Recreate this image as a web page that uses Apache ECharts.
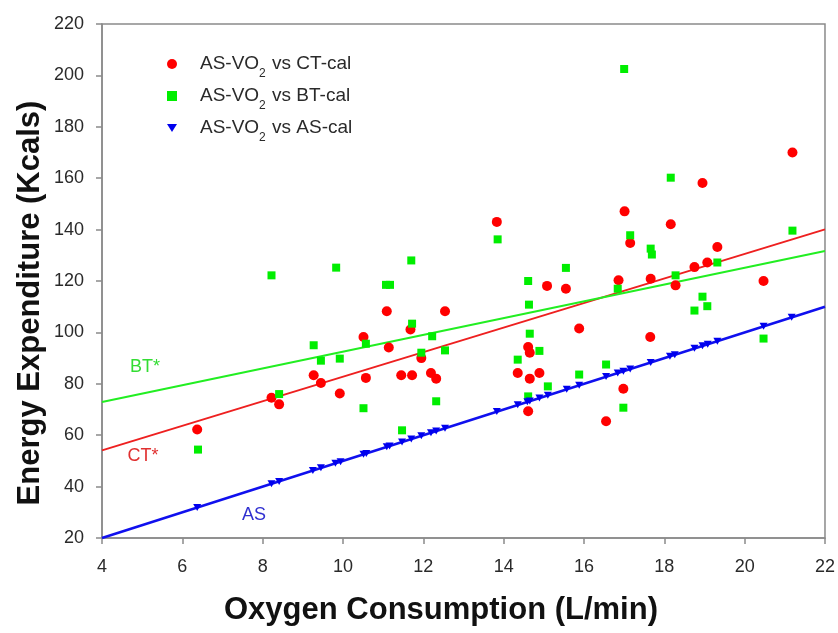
<!DOCTYPE html>
<html>
<head>
<meta charset="utf-8">
<title>Energy Expenditure vs Oxygen Consumption</title>
<script src="https://cdn.jsdelivr.net/npm/echarts@6/dist/echarts.min.js"></script>
<style>
  html, body { margin: 0; padding: 0; background: #fff; }
  #main { width: 838px; height: 633px; }
</style>
</head>
<body>
<div id="main"></div>
<script>
// AS-VO2 (L/min) against calculated kcals
var ctPoints = [
  [6.37, 62.2], [8.22, 74.6], [8.41, 72.0], [9.27, 83.3], [9.45, 80.3], [9.92, 76.2],
  [10.51, 98.2], [10.57, 82.3], [11.09, 108.2], [11.14, 94.1], [11.45, 83.3], [11.68, 101.1],
  [11.72, 83.3], [11.95, 90.0], [12.19, 84.2], [12.32, 82.0], [12.54, 108.2], [13.83, 143.0],
  [14.35, 84.2], [14.61, 94.3], [14.65, 92.1], [14.65, 82.0], [14.61, 69.3], [14.89, 84.2],
  [15.08, 118.1], [15.55, 117.0], [15.88, 101.5], [16.55, 65.4], [16.86, 120.3], [16.98, 78.1],
  [17.01, 147.1], [17.15, 134.8], [17.66, 120.9], [17.65, 98.2], [18.16, 142.1], [18.28, 118.3],
  [18.75, 125.4], [18.95, 158.1], [19.07, 127.2], [19.32, 133.2], [20.47, 120.0], [21.19, 170.0]
];
var btPoints = [
  [6.39, 54.4], [8.22, 122.2], [8.41, 76.0], [9.27, 95.0], [9.45, 89.0], [9.83, 125.2],
  [9.92, 89.8], [10.51, 70.5], [10.57, 95.6], [11.07, 118.5], [11.17, 118.5], [11.47, 61.9],
  [11.70, 128.0], [11.72, 103.4], [11.95, 92.1], [12.22, 98.5], [12.32, 73.2], [12.54, 93.0],
  [13.85, 136.2], [14.35, 89.4], [14.61, 120.0], [14.63, 110.8], [14.65, 99.5], [14.61, 75.1],
  [14.89, 92.8], [15.10, 79.0], [15.55, 125.1], [15.88, 83.6], [16.55, 87.5], [16.84, 117.0],
  [16.98, 70.7], [17.00, 202.5], [17.15, 137.8], [17.66, 132.6], [17.69, 130.3], [18.16, 160.2],
  [18.28, 122.2], [18.75, 108.5], [18.95, 113.9], [19.07, 110.2], [19.32, 127.2], [20.47, 97.6],
  [21.19, 139.6]
];
var asPoints = [
  [6.37, 31.9], [8.22, 41.1], [8.41, 42.0], [9.25, 46.3], [9.45, 47.3], [9.81, 49.1],
  [9.94, 49.7], [10.51, 52.6], [10.58, 52.9], [11.09, 55.5], [11.16, 55.8], [11.47, 57.4],
  [11.70, 58.5], [11.95, 59.8], [12.19, 61.0], [12.32, 61.6], [12.54, 62.7], [13.83, 69.2],
  [14.35, 71.8], [14.59, 73.0], [14.65, 73.3], [14.89, 74.5], [15.10, 75.5], [15.57, 77.9],
  [15.88, 79.4], [16.55, 82.8], [16.84, 84.2], [16.98, 84.9], [17.15, 85.8], [17.66, 88.3],
  [18.14, 90.7], [18.26, 91.3], [18.75, 93.8], [18.95, 94.8], [19.08, 95.4], [19.32, 96.6],
  [20.47, 102.4], [21.17, 105.9]
];
// regression lines (end points)
var ctFit = [[4, 54.1], [22, 140.1]];
var btFit = [[4, 72.9], [22, 131.7]];
var asFit = [[4, 20], [22, 110]];

var seriesNames = ['AS-VO2 vs CT-cal', 'AS-VO2 vs BT-cal', 'AS-VO2 vs AS-cal'];

var FONT = '"Liberation Sans", Arial, sans-serif';
var downTri = 'path://M0,0L10,0L5,8Z';

var chart = echarts.init(document.getElementById('main'), null, {renderer: 'canvas'});

chart.setOption({
  animation: false,
  backgroundColor: '#fff',
  textStyle: {fontFamily: FONT},
  grid: {left: 102, top: 24, right: 3, bottom: 95, show: true, borderColor: '#8a8a8a', borderWidth: 1.5},
  legend: {
    orient: 'vertical',
    left: 162,
    top: 47,
    itemWidth: 10,
    itemHeight: 10,
    itemGap: 4,
    data: [
      {name: seriesNames[0], icon: 'circle'},
      {name: seriesNames[1], icon: 'rect'},
      {name: seriesNames[2], icon: downTri}
    ],
    formatter: function (name) { return name.replace('VO2', 'VO{sub|2}'); },
    textStyle: {
      fontFamily: FONT, fontSize: 19, color: '#2a2a2a', padding: [0, 0, 0, 18], lineHeight: 24,
      rich: {sub: {fontFamily: FONT, fontSize: 12, color: '#2a2a2a', lineHeight: 24, verticalAlign: 'bottom', padding: [0, 1, -4, 0]}}
    }
  },
  xAxis: {
    type: 'value', min: 4, max: 22, interval: 2,
    splitLine: {show: false},
    axisLine: {lineStyle: {color: '#8a8a8a', width: 1.5}},
    axisTick: {inside: false, length: 6, lineStyle: {color: '#8a8a8a', width: 1.5}},
    axisLabel: {fontFamily: FONT, fontSize: 18, color: '#2a2a2a', margin: 20}
  },
  yAxis: {
    type: 'value', min: 20, max: 220, interval: 20,
    splitLine: {show: false},
    axisLine: {show: true, lineStyle: {color: '#8a8a8a', width: 1.5}},
    axisTick: {show: true, inside: false, length: 6, lineStyle: {color: '#8a8a8a', width: 1.5}},
    axisLabel: {fontFamily: FONT, fontSize: 18, color: '#2a2a2a', margin: 18}
  },
  graphic: [
    {type: 'text', x: 441, y: 610, style: {text: 'Oxygen Consumption (L/min)', font: 'bold 31px ' + FONT, fill: '#111', align: 'center', verticalAlign: 'middle'}},
    {type: 'text', x: 30, y: 303, rotation: Math.PI / 2, style: {text: 'Energy Expenditure (Kcals)', font: 'bold 31px ' + FONT, fill: '#111', align: 'center', verticalAlign: 'middle'}},
    {type: 'text', x: 145, y: 367, style: {text: 'BT*', font: '18px ' + FONT, fill: '#33dd33', align: 'center', verticalAlign: 'middle'}},
    {type: 'text', x: 143, y: 456, style: {text: 'CT*', font: '18px ' + FONT, fill: '#e03030', align: 'center', verticalAlign: 'middle'}},
    {type: 'text', x: 254, y: 515, style: {text: 'AS', font: '18px ' + FONT, fill: '#3030d0', align: 'center', verticalAlign: 'middle'}}
  ],
  series: [
    {type: 'line', data: ctFit, showSymbol: false, silent: true, z: 1, lineStyle: {color: '#ee2020', width: 2}},
    {type: 'line', data: btFit, showSymbol: false, silent: true, z: 1, lineStyle: {color: '#22ee22', width: 2}},
    {type: 'line', data: asFit, showSymbol: false, silent: true, z: 1, lineStyle: {color: '#1010ee', width: 2.5}},
    {name: seriesNames[0], type: 'scatter', data: ctPoints, symbol: 'circle', symbolSize: 10, z: 3, itemStyle: {color: '#ff0000', opacity: 1}},
    {name: seriesNames[1], type: 'scatter', data: btPoints, symbol: 'rect', symbolSize: 8, z: 3, itemStyle: {color: '#00ee00', opacity: 1}},
    {name: seriesNames[2], type: 'scatter', data: asPoints, symbol: downTri, symbolSize: [8, 7], z: 3, itemStyle: {color: '#0000ee', opacity: 1}}
  ]
});
</script>
</body>
</html>
